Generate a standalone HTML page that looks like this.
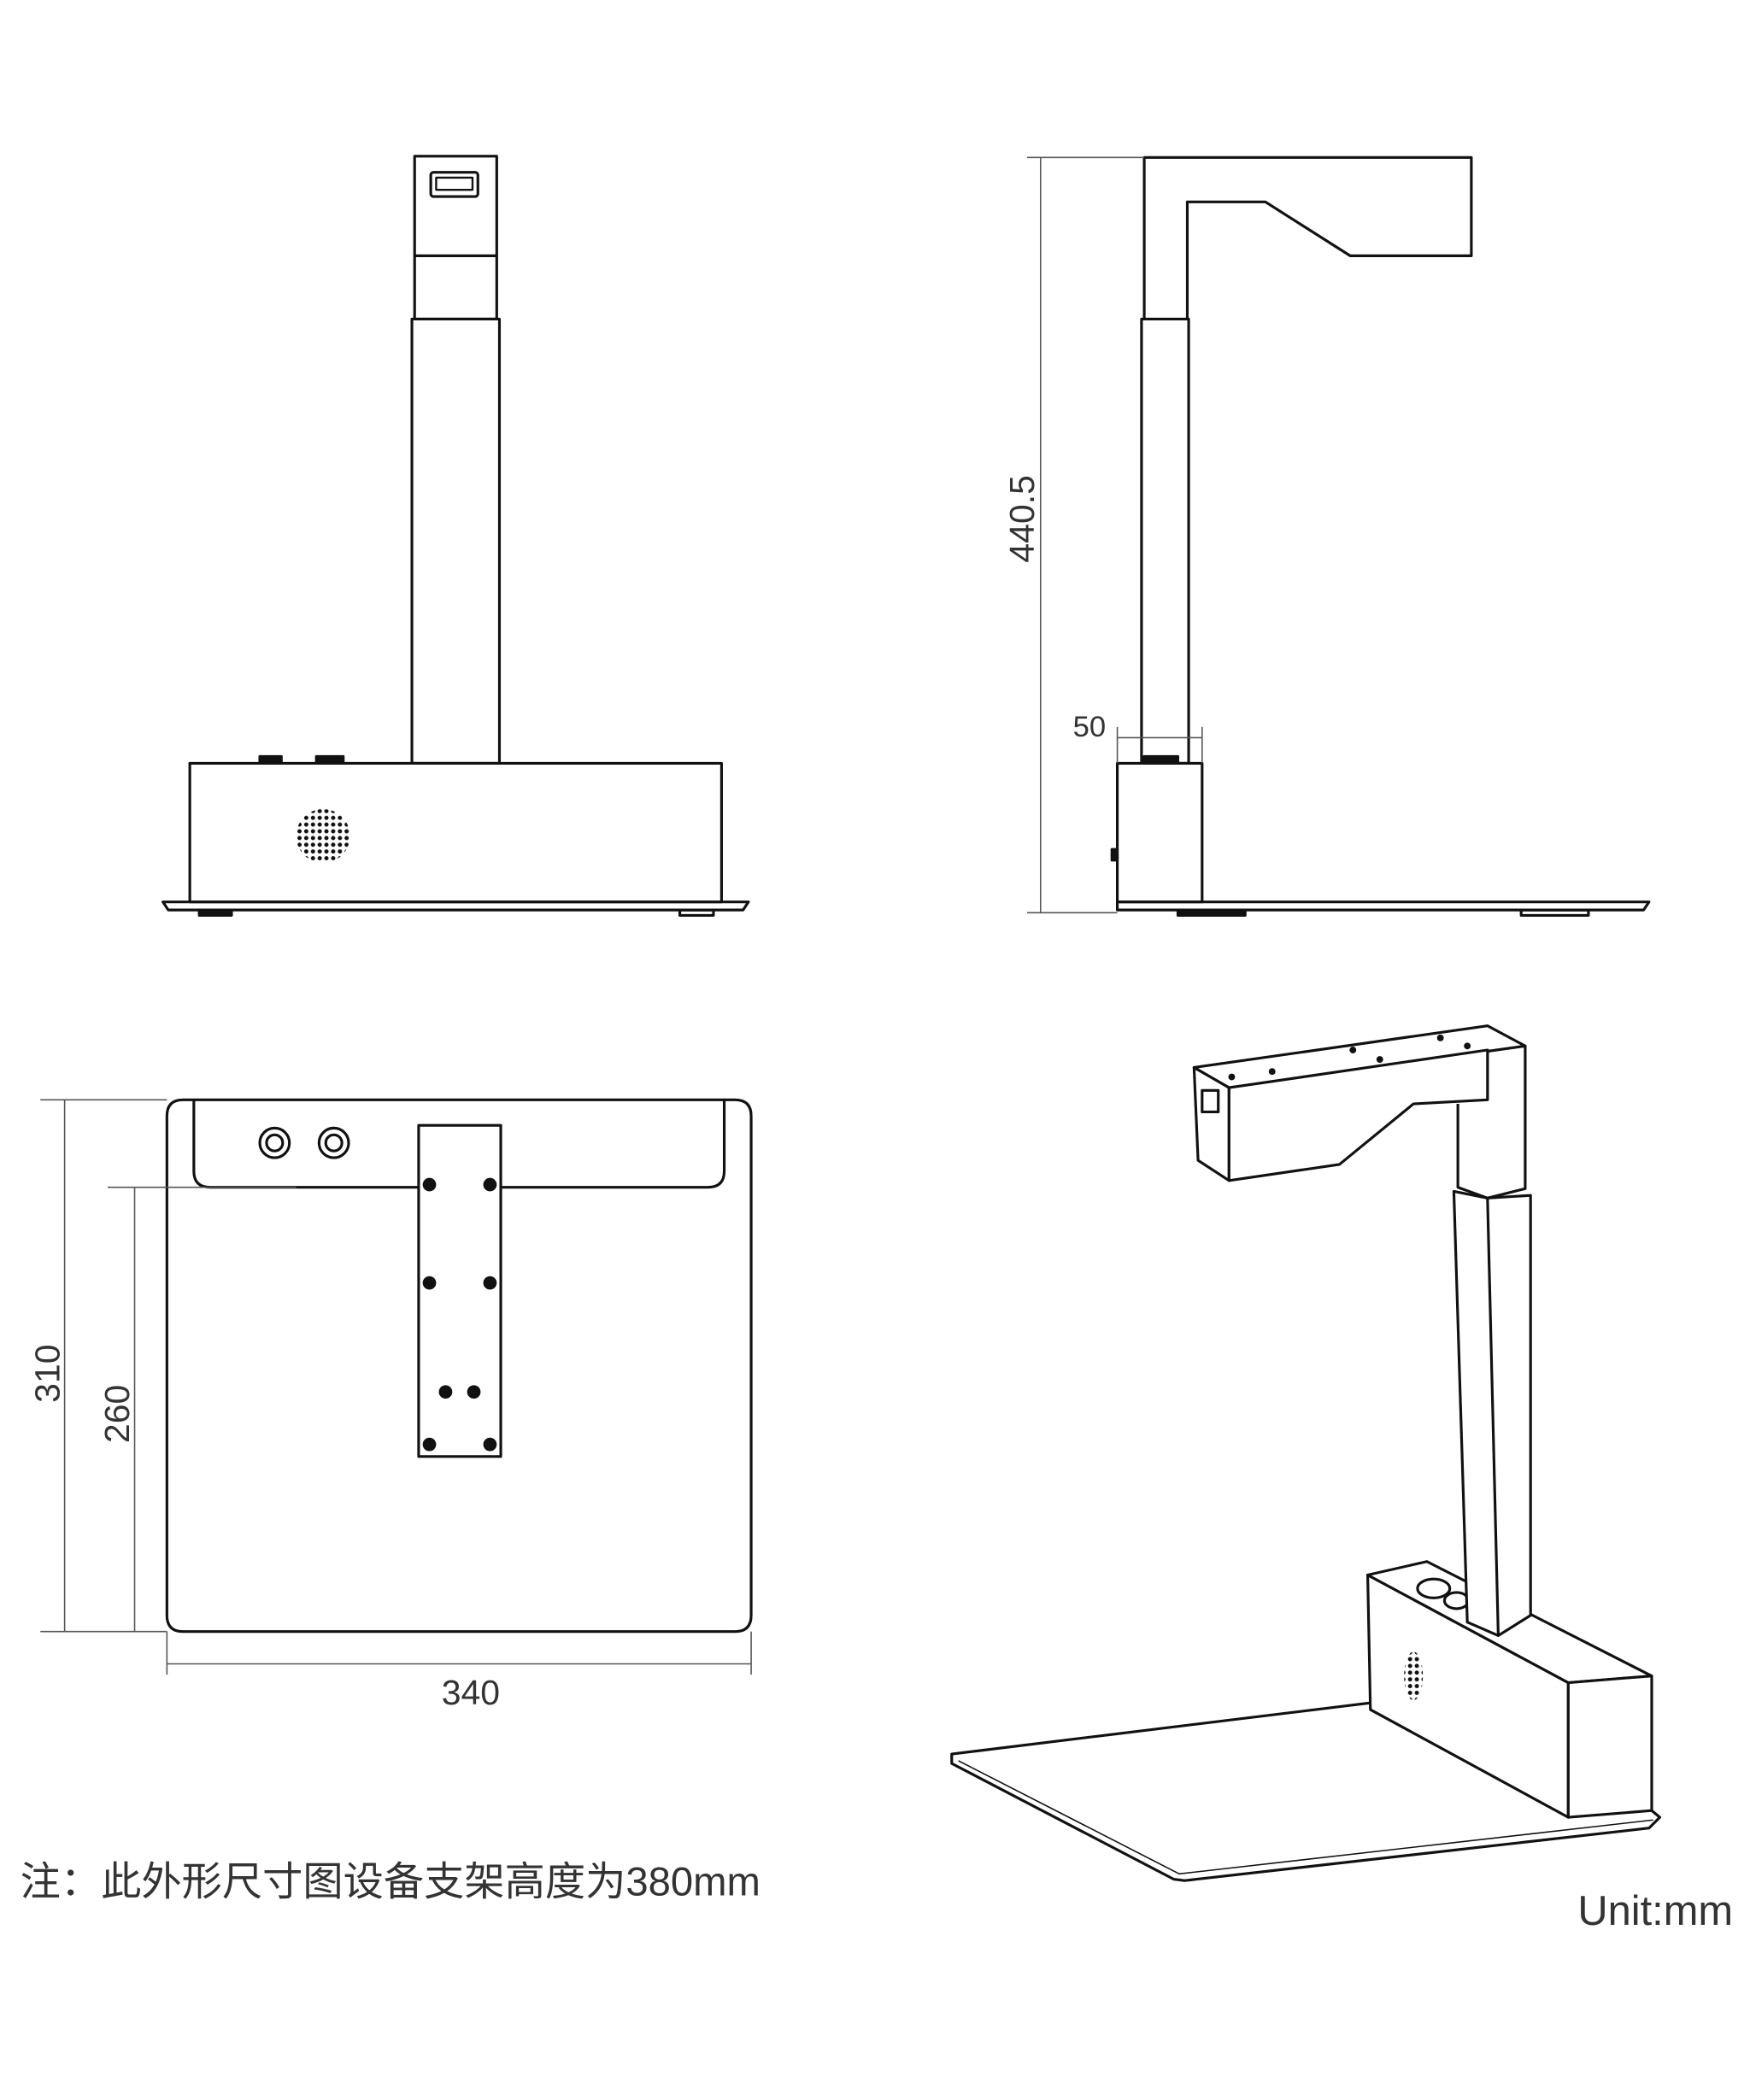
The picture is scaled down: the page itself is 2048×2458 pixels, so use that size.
<!DOCTYPE html>
<html><head><meta charset="utf-8"><style>
html,body{margin:0;padding:0;background:#fff;}
svg{display:block;}
text{font-family:"Liberation Sans","Noto Sans CJK SC",sans-serif;fill:#333;}
</style></head><body>
<svg width="2048" height="2458" viewBox="0 0 1300 1560" preserveAspectRatio="none" xmlns="http://www.w3.org/2000/svg">
<defs>
<pattern id="dots" width="5" height="5" patternUnits="userSpaceOnUse"><circle cx="2.5" cy="2.5" r="1.6" fill="#111"/></pattern>
</defs>
<g fill="none" stroke="#111" stroke-width="2" stroke-linejoin="round">
<!-- FRONT VIEW -->
<rect x="308" y="116" width="61" height="121"/>
<line x1="308" y1="190" x2="369" y2="190"/>
<rect x="320" y="128" width="35" height="18" rx="2"/>
<rect x="324" y="132" width="27" height="9" stroke-width="1.5"/>
<rect x="306" y="237" width="65" height="330"/>
<rect x="141" y="567" width="395" height="103"/>
<rect x="193" y="562" width="16" height="5" fill="#111"/>
<rect x="235" y="562" width="20" height="5" fill="#111"/>
<circle cx="240" cy="621" r="20" fill="url(#dots)" stroke="none"/>
<path d="M121 670 H556 L552 676 H125 Z"/>
<rect x="148" y="676" width="24" height="4" fill="#111"/>
<rect x="505" y="676" width="25" height="4"/>
<!-- SIDE VIEW -->
<path d="M850 237 V117 H1093 V190 H1003 L940 150 H882 V237"/>
<rect x="848" y="237" width="35" height="330"/>
<rect x="830" y="567" width="63" height="103"/>
<rect x="850" y="562" width="25" height="5" fill="#111"/>
<rect x="826" y="631" width="4" height="8" fill="#111"/>
<path d="M830 670 H1225 L1221 676 H830 Z"/>
<rect x="875" y="676" width="50" height="4" fill="#111"/>
<rect x="1130" y="676" width="50" height="4"/>
<g stroke-width="1" stroke="#555">
<line x1="763" y1="117" x2="850" y2="117"/><line x1="763" y1="678" x2="830" y2="678"/>
<line x1="773" y1="117" x2="773" y2="678"/>
<line x1="830" y1="540" x2="830" y2="567"/><line x1="893" y1="540" x2="893" y2="567"/>
<line x1="830" y1="548" x2="893" y2="548"/>
</g>
<!-- TOP VIEW -->
<path d="M136 817 H546 Q558 817 558 829 V1200 Q558 1212 546 1212 H136 Q124 1212 124 1200 V829 Q124 817 136 817 Z"/>
<path d="M144 817 V870 Q144 882 156 882 H526 Q538 882 538 870 V817"/>
<circle cx="204" cy="849" r="11"/><circle cx="204" cy="849" r="6"/>
<circle cx="248" cy="849" r="11"/><circle cx="248" cy="849" r="6"/>
<rect x="311" y="836" width="61" height="246" fill="#fff"/>
<g fill="#111" stroke="none">
<circle cx="319" cy="880" r="5"/><circle cx="364" cy="880" r="5"/>
<circle cx="319" cy="953" r="5"/><circle cx="364" cy="953" r="5"/>
<circle cx="331" cy="1034" r="5"/><circle cx="352" cy="1034" r="5"/>
<circle cx="319" cy="1073" r="5"/><circle cx="364" cy="1073" r="5"/>
</g>
<g stroke-width="1" stroke="#555">
<line x1="30" y1="817" x2="124" y2="817"/><line x1="30" y1="1212" x2="124" y2="1212"/>
<line x1="80" y1="882" x2="220" y2="882"/>
<line x1="48" y1="817" x2="48" y2="1212"/><line x1="100" y1="882" x2="100" y2="1212"/>
<line x1="124" y1="1212" x2="124" y2="1244"/><line x1="558" y1="1212" x2="558" y2="1244"/>
<line x1="124" y1="1236" x2="558" y2="1236"/>
</g>
<!-- ISOMETRIC -->
<path d="M1018 1265 L707 1303 L707 1310 L872 1396 L880 1397 L1225 1358 L1233 1350 L1227 1345"/>
<path d="M712 1308 L876 1392 L1228 1352" stroke-width="1"/>
<path d="M1016 1170 L1165 1250 L1165 1350 L1018 1270 Z" fill="#fff"/>
<path d="M1016 1170 L1060 1160 L1227 1245 L1165 1250 Z" fill="#fff"/>
<path d="M1165 1250 L1227 1245 L1227 1345 L1165 1350 Z" fill="#fff"/>
<ellipse cx="1065" cy="1180" rx="12" ry="7"/><ellipse cx="1082" cy="1189" rx="9" ry="6"/>
<ellipse cx="1050" cy="1245" rx="7" ry="18" fill="url(#dots)" stroke="none"/>
<path d="M1080 885 L1090 1205 L1113 1215 L1137 1200 L1137 888 L1105 890 Z" fill="#fff"/>
<line x1="1105" y1="890" x2="1113" y2="1215"/>
<path d="M1083 820 L1083 882 L1105 890 L1133 883 L1133 777 L1105 780 L1105 817"/>
<path d="M887 793 L1105 762 L1133 777 L913 808 Z" fill="#fff"/>
<path d="M887 793 L913 808 L913 877 L890 862 Z" fill="#fff"/>
<path d="M913 808 L1105 780 L1105 817 L1050 820 L995 865 L913 877 Z" fill="#fff"/>
<rect x="893" y="810" width="12" height="16"/>
<g fill="#111" stroke="none">
<circle cx="915" cy="800" r="2.5"/><circle cx="945" cy="796" r="2.5"/><circle cx="1005" cy="780" r="2.5"/><circle cx="1070" cy="771" r="2.5"/><circle cx="1025" cy="787" r="2.5"/><circle cx="1090" cy="777" r="2.5"/>
</g>
</g>
<text x="0" y="0" font-size="26" transform="translate(768,418) rotate(-90)">440.5</text>
<text x="797" y="547" font-size="22">50</text>
<text x="0" y="0" font-size="26" transform="translate(44,1042) rotate(-90)">310</text>
<text x="0" y="0" font-size="26" transform="translate(96,1072) rotate(-90)">260</text>
<text x="328" y="1266" font-size="26">340</text>
<text x="15" y="1408" font-size="30">注：此外形尺寸图设备支架高度为380mm</text>
<text x="1172" y="1430" font-size="31">Unit:mm</text>
</svg>
</body></html>
